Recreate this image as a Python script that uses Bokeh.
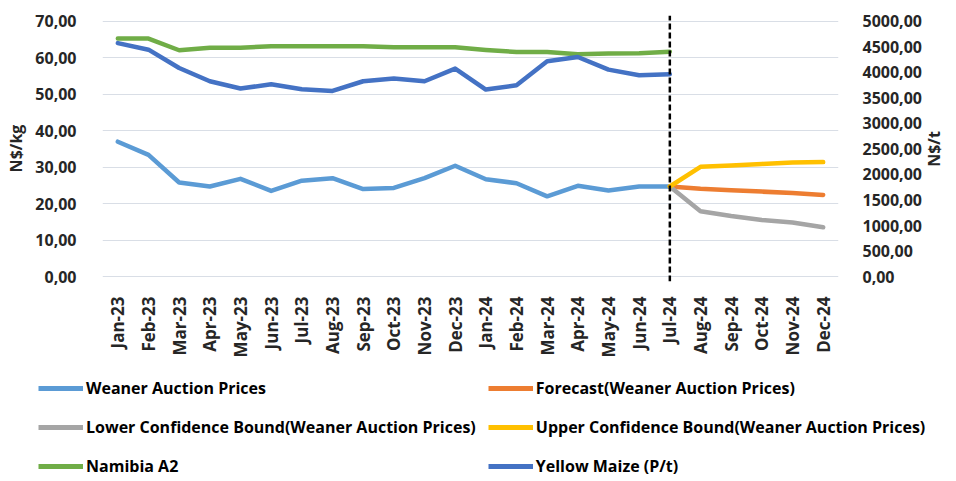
from bokeh.plotting import figure
from bokeh.layouts import column, row
from bokeh.models import (FactorRange, Range1d, LinearAxis, FixedTicker,
                          CustomJSTickFormatter, Legend, LegendItem, Title)
from bokeh.embed import file_html
from bokeh.resources import INLINE
import math

# ---------------- data ----------------
categories = ["Jan-23", "Feb-23", "Mar-23", "Apr-23", "May-23", "Jun-23",
              "Jul-23", "Aug-23", "Sep-23", "Oct-23", "Nov-23", "Dec-23",
              "Jan-24", "Feb-24", "Mar-24", "Apr-24", "May-24", "Jun-24",
              "Jul-24", "Aug-24", "Sep-24", "Oct-24", "Nov-24", "Dec-24"]
hist_months = categories[:19]
forecast_months = categories[18:]

weaner = [37.0, 33.4, 25.8, 24.7, 26.8, 23.5, 26.3, 27.0, 24.0, 24.3, 27.0, 30.4,
          26.7, 25.6, 22.0, 24.9, 23.6, 24.7, 24.7]
forecast = [24.7, 24.1, 23.7, 23.3, 22.9, 22.4]
lower_bound = [24.7, 17.9, 16.6, 15.5, 14.8, 13.5]
upper_bound = [24.7, 30.1, 30.5, 30.9, 31.3, 31.4]
namibia_a2 = [65.3, 65.3, 62.1, 62.8, 62.8, 63.2, 63.2, 63.2, 63.2, 62.9, 62.9, 62.9,
              62.2, 61.6, 61.6, 61.0, 61.2, 61.3, 61.7]
yellow_maize = [4576, 4447, 4088, 3828, 3685, 3769, 3672, 3639, 3828, 3880, 3828, 4076,
                3665, 3750, 4219, 4303, 4056, 3945, 3965]

left_ticks = [0, 10, 20, 30, 40, 50, 60, 70]
right_ticks = [0, 500, 1000, 1500, 2000, 2500, 3000, 3500, 4000, 4500, 5000]
split_month = "Jul-24"
left_title = "N$/kg"
right_title = "N$/t"

series_labels = ["Weaner Auction Prices", "Forecast(Weaner Auction Prices)",
                 "Lower Confidence Bound(Weaner Auction Prices)",
                 "Upper Confidence Bound(Weaner Auction Prices)",
                 "Namibia A2", "Yellow Maize (P/t)"]
series_colors = ["#5B9BD5", "#ED7D31", "#A5A5A5", "#FFC000", "#70AD47", "#4472C4"]

# ---------------- styling ----------------
FONT = "Open Sans"
TXT = "#262626"
y_lo, y_hi = -1.37, 71.64
ratio = 5000 / 70.0
TOP, BOTTOM = 15, 78

p = figure(width=924, height=360, x_range=FactorRange(*categories),
           y_range=Range1d(y_lo, y_hi), output_backend="svg",
           toolbar_location=None, min_border_left=102, min_border_right=86,
           min_border_top=TOP, min_border_bottom=BOTTOM)
p.extra_y_ranges = {"right": Range1d(y_lo * ratio, y_hi * ratio)}
p.outline_line_color = None
p.background_fill_color = "white"
p.border_fill_color = "white"

fmt = CustomJSTickFormatter(code="return tick.toFixed(2).replace('.', ',');")

ya = p.yaxis[0]
ya.ticker = FixedTicker(ticks=left_ticks)
ya.formatter = fmt
ya.axis_label = left_title

ra = LinearAxis(y_range_name="right", ticker=FixedTicker(ticks=right_ticks),
                formatter=fmt)
p.add_layout(ra, "right")

for ax in [ya, ra]:
    ax.axis_line_color = None
    ax.major_tick_line_color = None
    ax.minor_tick_line_color = None
    ax.major_label_text_font = FONT
    ax.major_label_text_font_style = "bold"
    ax.major_label_text_font_size = "16px"
    ax.major_label_text_color = TXT
    ax.axis_label_text_font = FONT
    ax.axis_label_text_font_style = "bold"
    ax.axis_label_text_font_size = "16px"
    ax.axis_label_text_color = TXT
ya.major_label_standoff = 20
ya.axis_label_standoff = 5
ra.major_label_standoff = 18

xa = p.xaxis[0]
xa.axis_line_color = None
xa.major_tick_line_color = None
xa.minor_tick_line_color = None
xa.major_label_orientation = math.pi / 2
xa.major_label_text_font = FONT
xa.major_label_text_font_style = "bold"
xa.major_label_text_font_size = "17px"
xa.major_label_text_color = TXT
xa.major_label_standoff = 9

p.xgrid.grid_line_color = None
p.ygrid.ticker = FixedTicker(ticks=left_ticks)
p.ygrid.grid_line_color = "#D9DEE6"
p.ygrid.grid_line_width = 1

LW = 4.5
kw = dict(line_width=LW, line_cap="round", line_join="round")
p.line(hist_months, weaner, color=series_colors[0], **kw)
p.line(forecast_months, forecast, color=series_colors[1], **kw)
p.line(forecast_months, lower_bound, color=series_colors[2], **kw)
p.line(forecast_months, upper_bound, color=series_colors[3], **kw)
p.line(hist_months, namibia_a2, color=series_colors[4], **kw)
p.line(hist_months, yellow_maize, color=series_colors[5], y_range_name="right", **kw)

p.segment(x0=[split_month], y0=[y_lo], x1=[split_month], y1=[y_hi],
          line_color="black", line_width=2.5, line_dash="6 3")

# ---------------- right-hand axis title (reads bottom-to-top) ----------------
pt = figure(width=20, height=360, output_backend="svg", toolbar_location=None,
            x_axis_type=None, y_axis_type=None, min_border_left=0, min_border_right=0,
            min_border_top=TOP, min_border_bottom=BOTTOM,
            x_range=Range1d(0, 1), y_range=Range1d(0, 1))
pt.outline_line_color = None
pt.grid.visible = False
pt.add_layout(Title(text=right_title, align="center", standoff=0, offset=0,
                    text_font=FONT, text_font_size="16px", text_font_style="bold",
                    text_color=TXT), "left")

# ---------------- legend (separate strip below the chart) ----------------
lg = figure(width=944, height=119, output_backend="svg", toolbar_location=None,
            x_axis_type=None, y_axis_type=None, min_border=0,
            x_range=Range1d(0, 1), y_range=Range1d(0, 1))
lg.outline_line_color = None
lg.grid.visible = False
for fig in (p, pt, lg):
    if "frame_align" in fig.properties():
        fig.frame_align = False
items = []
for lab, col in zip(series_labels, series_colors):
    # swatch-only renderer (no visible data point)
    r = lg.line([float("nan")], [float("nan")], color=col, line_width=5)
    items.append(LegendItem(label=lab, renderers=[r]))
legend = Legend(items=items, ncols=2, orientation="horizontal", location=(38, 0),
                glyph_width=45, glyph_height=16, label_height=27, spacing=12,
                label_standoff=3, padding=0, margin=0,
                border_line_color=None, background_fill_alpha=0,
                label_text_font=FONT, label_text_font_style="bold",
                label_text_font_size="16px", label_text_color="black")
lg.add_layout(legend, "center")

layout = column(row(p, pt, spacing=0), lg, spacing=0)
open("out.html", "w").write(file_html(layout, INLINE))
